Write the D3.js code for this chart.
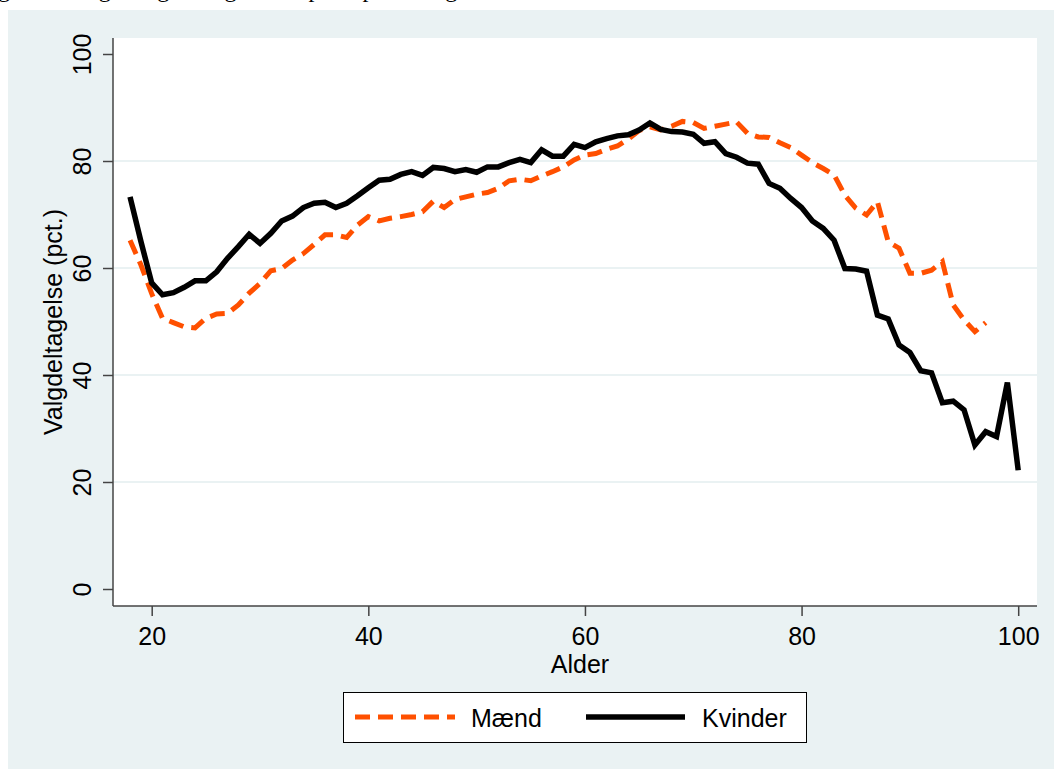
<!DOCTYPE html>
<html>
<head>
<meta charset="utf-8">
<script src="https://cdn.jsdelivr.net/npm/d3@7"></script>
<style>
  body { margin: 0; background: #fff; }
  svg { display: block; font-family: "Liberation Sans", Arial, sans-serif; }
</style>
</head>
<body>
<div id="chart"></div>
<script>
// DATA
////////////////////////////
// ages 18..100 (women), 18..97 (men)
var agesKvinder = [18,19,20,21,22,23,24,25,26,27,28,29,30,31,32,33,34,35,36,37,38,39,40,
  41,42,43,44,45,46,47,48,49,50,51,52,53,54,55,56,57,58,59,60,61,62,63,64,65,66,67,68,69,70,
  71,72,73,74,75,76,77,78,79,80,81,82,83,84,85,86,87,88,89,90,91,92,93,94,95,96,97,98,99,100];
var kvinder = [73.3,65.0,57.2,55.0,55.4,56.4,57.6,57.6,59.3,61.8,64.0,66.3,64.6,66.5,68.8,69.7,71.3,72.1,72.3,71.3,72.1,73.5,75.0,
  76.4,76.6,77.5,78.0,77.3,78.8,78.6,78.0,78.4,77.9,78.9,78.9,79.7,80.3,79.7,82.1,80.9,80.9,83.1,82.5,83.6,84.2,84.7,84.9,85.8,87.1,85.9,85.5,85.4,85.0,
  83.3,83.6,81.4,80.7,79.6,79.4,75.8,74.9,73.0,71.3,68.8,67.4,65.2,59.9,59.8,59.4,51.2,50.5,45.6,44.2,40.8,40.4,34.8,35.1,33.5,26.9,29.4,28.5,38.6,22.2];

var agesMaend = [18,19,20,21,22,23,24,25,26,27,28,29,30,31,32,33,34,35,36,37,38,39,40,
  41,42,43,44,45,46,47,48,49,50,51,52,53,54,55,56,57,58,59,60,61,62,63,64,65,66,67,68,69,70,
  71,72,73,74,75,76,77,78,79,80,81,82,83,84,85,86,87,88,89,90,91,92,93,94,95,96,97];
var maend = [65.2,60.6,55.2,50.6,49.8,49.0,48.8,50.6,51.4,51.5,53.1,55.3,57.1,59.5,59.9,61.5,62.7,64.4,66.2,66.2,65.7,68.0,69.6,
  68.8,69.3,69.6,70.0,70.5,72.5,71.3,72.8,73.3,73.8,74.1,74.9,76.3,76.6,76.3,77.2,78.0,78.9,80.2,81.1,81.4,82.2,82.8,84.1,85.7,86.4,85.8,86.5,87.4,87.2,
  86.1,86.5,86.9,87.3,85.2,84.5,84.4,83.4,82.5,81.1,79.7,78.6,77.4,73.6,71.2,69.9,72.4,64.9,63.7,59.0,59.0,59.6,61.2,53.1,50.3,48.1,49.8];

var xTicks = [20, 40, 60, 80, 100];
var yTicks = [0, 20, 40, 60, 80, 100];
var gridTicks = [20, 40, 60, 80];

// SETUP
////////////////////////////
var width = 1054,
    height = 769;
var bg = "#eaf2f3",
    orange = "#ff5000";

var svg = d3.select("#chart").append("svg")
    .attr("width", width)
    .attr("height", height);

// cut-off caption line above the graph (only descenders show)
svg.append("text")
    .attr("x", -2).attr("y", -3)
    .style("font-family", "'Liberation Serif', 'Times New Roman', serif")
    .style("font-size", "24px")
    .text("gælder valgdeltagelse og alder opdelt på køn og");

// graph region
svg.append("rect")
    .attr("x", 8).attr("y", 10)
    .attr("width", width - 8).attr("height", height - 10)
    .attr("fill", bg);

// plot region
var plot = { left: 113, right: 1037, top: 38, bottom: 606 };
svg.append("rect")
    .attr("x", plot.left).attr("y", plot.top)
    .attr("width", plot.right - plot.left).attr("height", plot.bottom - plot.top)
    .attr("fill", "#fff");

var x = d3.scaleLinear().domain([20, 100]).range([151.7, 1018.2]);
var y = d3.scaleLinear().domain([0, 100]).range([589, 54]);

// grid lines
svg.selectAll("line.grid")
  .data(gridTicks)
  .enter().append("line")
    .attr("class", "grid")
    .attr("x1", plot.left).attr("x2", plot.right)
    .attr("y1", function(d) { return y(d); })
    .attr("y2", function(d) { return y(d); })
    .attr("stroke", bg)
    .attr("stroke-width", 2);

// y axis
var yAxis = svg.append("g")
    .attr("transform", "translate(" + plot.left + ",0)")
    .call(d3.axisLeft(y).tickValues(yTicks).tickSize(10).tickPadding(0));
yAxis.select(".domain").attr("d", "M0," + plot.top + "V" + plot.bottom);
yAxis.selectAll("line, path").attr("stroke", "#444").attr("stroke-width", 1.5);
yAxis.selectAll("text")
    .attr("x", null).attr("dy", null)
    .attr("text-anchor", "middle")
    .attr("fill", "#000")
    .style("font-size", "25px")
    .attr("transform", "translate(-22,0) rotate(-90)");

// x axis
var xAxis = svg.append("g")
    .attr("transform", "translate(0," + plot.bottom + ")")
    .call(d3.axisBottom(x).tickValues(xTicks).tickSize(10).tickPadding(0));
xAxis.select(".domain").attr("d", "M" + plot.left + ",0H" + plot.right);
xAxis.selectAll("line, path").attr("stroke", "#444").attr("stroke-width", 1.5);
xAxis.selectAll("text")
    .attr("y", 39).attr("dy", null)
    .attr("fill", "#000")
    .style("font-size", "25px");

// axis titles
svg.append("text")
    .attr("x", (x(20) + x(100)) / 2 - 5).attr("y", 673)
    .attr("text-anchor", "middle")
    .style("font-size", "25px")
    .text("Alder");

svg.append("text")
    .attr("transform", "translate(62," + ((plot.top + plot.bottom) / 2) + ") rotate(-90)")
    .attr("text-anchor", "middle")
    .style("font-size", "25px")
    .text("Valgdeltagelse (pct.)");

// LINES
////////////////////////////
var line = d3.line()
    .x(function(d) { return x(d[0]); })
    .y(function(d) { return y(d[1]); });

svg.append("path")
    .datum(d3.zip(agesMaend, maend))
    .attr("d", line)
    .attr("fill", "none")
    .attr("stroke", orange)
    .attr("stroke-width", 5)
    .attr("stroke-dasharray", "15,8");

svg.append("path")
    .datum(d3.zip(agesKvinder, kvinder))
    .attr("d", line)
    .attr("fill", "none")
    .attr("stroke", "#000")
    .attr("stroke-width", 5.5);

// LEGEND
////////////////////////////
var legend = svg.append("g");
legend.append("rect")
    .attr("x", 343.5).attr("y", 692.5)
    .attr("width", 463).attr("height", 50)
    .attr("fill", "#fff")
    .attr("stroke", "#000")
    .attr("stroke-width", 1);

legend.append("line")
    .attr("x1", 355).attr("x2", 455).attr("y1", 717).attr("y2", 717)
    .attr("stroke", orange).attr("stroke-width", 5)
    .attr("stroke-dasharray", "15,8");
legend.append("text")
    .attr("x", 471).attr("y", 727)
    .style("font-size", "25px")
    .text("Mænd");

legend.append("line")
    .attr("x1", 586).attr("x2", 685).attr("y1", 717).attr("y2", 717)
    .attr("stroke", "#000").attr("stroke-width", 5.5);
legend.append("text")
    .attr("x", 702).attr("y", 727)
    .style("font-size", "25px")
    .text("Kvinder");
</script>
</body>
</html>
